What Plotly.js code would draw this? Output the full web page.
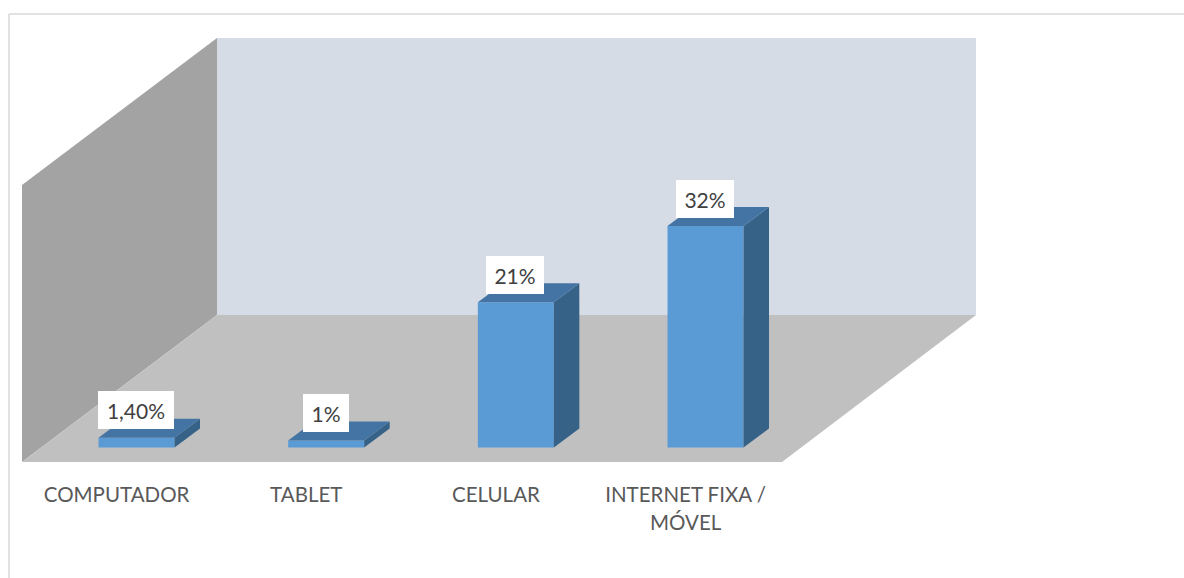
<!DOCTYPE html>
<html><head><meta charset="utf-8">
<script src="https://cdn.plot.ly/plotly-3.0.1.min.js"></script>
<style>html,body{margin:0;padding:0;background:#fff;overflow:hidden}#chart{width:1184px;height:578px}</style>
</head><body><div id="chart"></div>
<script>
const categories = ["COMPUTADOR", "TABLET", "CELULAR", "INTERNET FIXA /"];
const wrappedLine = "MÓVEL";
const values = [1.4, 1, 21, 32];
const valueLabels = ["1,40%", "1%", "21%", "32%"];
const labelWidths = [76, 46, 58, 58];

const W = 1184, H = 578, plotH = 475;
const idx = categories.map((_, i) => i);
const pxPerCat = 189.67, pxPerUnit = 6.92, x0Px = 136.5, y0Px = 447.5;
const barW = 76 / pxPerCat, depthX = 25.5 / pxPerCat, depthY = 19 / pxPerUnit;
const px = v => v / W, py = v => 1 - v / plotH;
const poly = (pts, color) => ({
  type: "path", xref: "paper", yref: "paper", layer: "below",
  path: "M" + pts.map(p => px(p[0]) + "," + py(p[1])).join("L") + "Z",
  fillcolor: color, line: {width: 0}
});
const rule = (x1, y1, x2, y2) => ({
  type: "line", xref: "paper", yref: "paper", layer: "below",
  x0: px(x1), y0: py(y1), x1: px(x2), y1: py(y2),
  line: {color: "#d9d9d9", width: 1.5}
});

const front = {
  type: "bar", x: idx, y: values, width: barW,
  marker: {color: "#5B9BD5", line: {width: 0}}, hoverinfo: "skip", showlegend: false
};
const face = (xs, ys, color) => ({
  type: "scatter", mode: "lines", x: xs, y: ys, fill: "toself", fillcolor: color,
  line: {width: 0}, hoverinfo: "skip", showlegend: false
});
const tops = idx.map(i => {
  const l = i - barW / 2, r = i + barW / 2, v = values[i];
  return face([l, r, r + depthX, l + depthX, l], [v, v, v + depthY, v + depthY, v], "#4374A3");
});
const sides = idx.map(i => {
  const r = i + barW / 2, v = values[i];
  return face([r, r + depthX, r + depthX, r, r], [0, depthY, v + depthY, v, 0], "#376288");
});

const layout = {
  width: W, height: H, margin: {l: 0, r: 0, t: 0, b: H - plotH},
  paper_bgcolor: "#fff", plot_bgcolor: "rgba(0,0,0,0)", showlegend: false,
  font: {family: "Lato, sans-serif"},
  xaxis: {
    range: [-x0Px / pxPerCat, (W - x0Px) / pxPerCat], tickmode: "array",
    tickvals: idx.map(i => i - 0.105), ticktext: categories,
    tickfont: {family: "Lato, sans-serif", size: 20.5, color: "#595959"},
    ticks: "outside", ticklen: 1, tickcolor: "rgba(0,0,0,0)",
    showgrid: false, zeroline: false, showline: false, fixedrange: true
  },
  yaxis: {
    range: [(y0Px - plotH) / pxPerUnit, y0Px / pxPerUnit],
    visible: false, showgrid: false, zeroline: false, fixedrange: true
  },
  shapes: [
    rule(9, 14, W, 14), rule(9, 14, 9, H),
    poly([[217, 38], [976, 38], [976, 315], [217, 315]], "#D6DCE5"),
    poly([[22, 185], [217, 38], [217, 315], [22, 462]], "#A3A3A3"),
    poly([[22, 462], [217, 315], [976, 315], [782, 462]], "#C0C0C0")
  ],
  annotations: idx.map(i => ({
    x: i, y: values[i], xref: "x", yref: "y", text: valueLabels[i], showarrow: false,
    xanchor: "center", yanchor: "bottom", yshift: 8.5, xshift: -0.5,
    width: labelWidths[i], height: 38, bgcolor: "#fff", borderpad: 0, borderwidth: 0,
    font: {family: "Lato, sans-serif", size: 21, color: "#404040"}
  })).concat([{
    x: idx[3] - 0.105, xref: "x", yref: "paper",
    text: wrappedLine, showarrow: false, xanchor: "center", yanchor: "middle",
    y: py(522), font: {family: "Lato, sans-serif", size: 20.5, color: "#595959"}
  }])
};
Plotly.newPlot("chart", [front, ...sides, ...tops], layout, {displayModeBar: false, staticPlot: true});
</script></body></html>
